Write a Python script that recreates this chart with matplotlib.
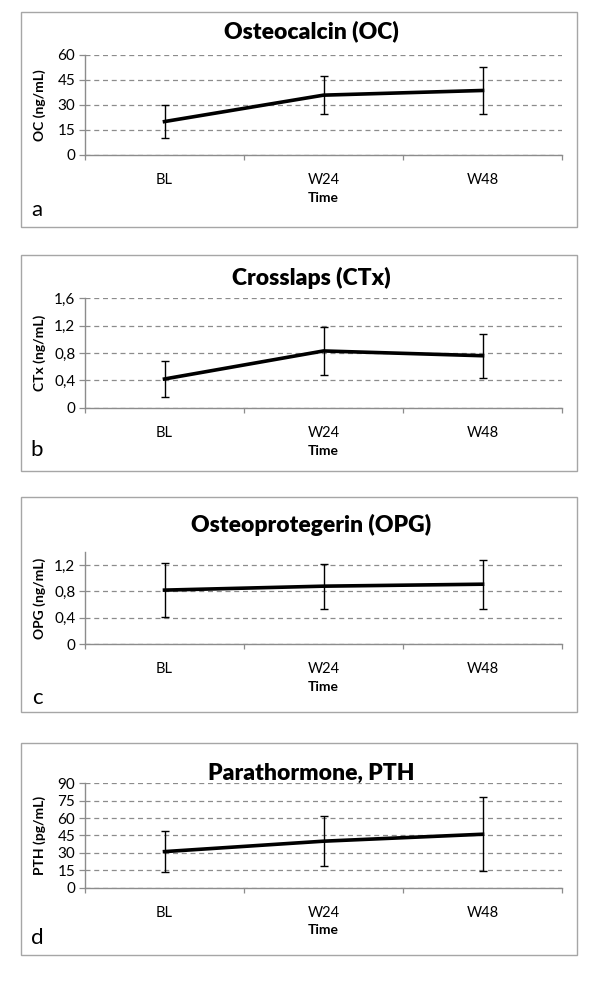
import matplotlib
matplotlib.use("Agg")
import matplotlib.pyplot as plt
from matplotlib.patches import Rectangle

plt.rcParams['font.family'] = ['Lato', 'DejaVu Sans']

categories = ['BL', 'W24', 'W48']

oc_mean = [20.0, 35.8, 38.6]
oc_err = [9.8, 11.2, 13.8]

ctx_mean = [0.42, 0.83, 0.76]
ctx_err = [0.265, 0.355, 0.32]

opg_mean = [0.82, 0.88, 0.91]
opg_err = [0.41, 0.34, 0.37]

pth_mean = [31.0, 40.0, 46.0]
pth_err = [17.5, 21.5, 32.0]

titles = ['Osteocalcin (OC)', 'Crosslaps (CTx)', 'Osteoprotegerin (OPG)', 'Parathormone, PTH']
ylabels = ['OC (ng/mL)', 'CTx (ng/mL)', 'OPG (ng/mL)', 'PTH (pg/mL)']
letters = ['a', 'b', 'c', 'd']
ytick_vals = [[0, 15, 30, 45, 60], [0, 0.4, 0.8, 1.2, 1.6], [0, 0.4, 0.8, 1.2], [0, 15, 30, 45, 60, 75, 90]]
ytick_labels = [['0', '15', '30', '45', '60'], ['0', '0,4', '0,8', '1,2', '1,6'],
                ['0', '0,4', '0,8', '1,2'], ['0', '15', '30', '45', '60', '75', '90']]
ylims = [(0, 60), (0, 1.6), (0, 1.4), (0, 90)]
means = [oc_mean, ctx_mean, opg_mean, pth_mean]
errs = [oc_err, ctx_err, opg_err, pth_err]

W, H = 600, 986
fig = plt.figure(figsize=(W / 100, H / 100), dpi=100)

# layout in pixels: (box_top, box_bottom, title_y, ax_top, ax_bottom, cat_y, time_y, letter_y)
layout = [
    (12.3, 226.7, 31.7, 54.7, 155.0, 175.0, 197.7, 210.0),
    (255.0, 471.0, 278.0, 298.3, 407.7, 430.0, 451.0, 450.0),
    (497.0, 711.5, 525.0, 552.0, 644.0, 664.0, 686.7, 698.0),
    (743.0, 955.0, 773.0, 783.3, 887.5, 906.7, 930.0, 938.0),
]
box_l, box_r = 20.7, 577.0
ax_l, ax_r = 85.0, 562.0
grey = '#8c8c8c'


def fy(y):
    return 1 - y / H


for i in range(4):
    bt, bb, ty, at, ab, cy, tmy, ly = layout[i]
    fig.patches.append(Rectangle((box_l / W, fy(bb)), (box_r - box_l) / W, (bb - bt) / H,
                                 transform=fig.transFigure, fill=False, edgecolor='#a6a6a6',
                                 linewidth=1.0))
    ax = fig.add_axes([ax_l / W, fy(ab), (ax_r - ax_l) / W, (ab - at) / H])
    x = list(range(len(categories)))
    ax.errorbar(x, means[i], yerr=errs[i], color='black', linewidth=2.6,
                ecolor='black', elinewidth=1.0, capsize=2.6, capthick=1.0, zorder=4)
    ax.set_xlim(-0.5, 2.5)
    ax.set_ylim(*ylims[i])
    ax.set_yticks(ytick_vals[i])
    ax.set_yticklabels(ytick_labels[i])
    ax.set_xticks(x)
    ax.set_xticklabels(categories)
    ax.set_xticks([-0.5, 0.5, 1.5, 2.5], minor=True)
    ax.tick_params(axis='x', which='major', length=0, pad=13, labelsize=10.5)
    ax.tick_params(axis='x', which='minor', length=3.5, width=0.9, color=grey, direction='out')
    ax.tick_params(axis='y', which='major', length=4, width=0.9, color=grey, direction='out',
                   pad=3, labelsize=11)
    for s in ['top', 'right']:
        ax.spines[s].set_visible(False)
    for s in ['left', 'bottom']:
        ax.spines[s].set_color(grey)
        ax.spines[s].set_linewidth(1.0)
        ax.spines[s].set_zorder(3)
    ax.grid(axis='y', color=grey, linestyle=(0, (4, 3)), linewidth=0.9)
    ax.set_axisbelow(True)
    ax.patch.set_visible(False)

    ax.set_xlabel('Time', fontsize=10, fontweight='bold')
    ax.xaxis.set_label_coords(0.5, (ab - tmy) / (ab - at))
    ax.xaxis.label.set_va('center')
    ax.set_ylabel(ylabels[i], fontsize=10, fontweight='bold')
    ax.yaxis.set_label_coords((40.0 - ax_l) / (ax_r - ax_l), 0.5)
    ax.yaxis.label.set_va('center')

    fig.text(311 / W, fy(ty), titles[i], ha='center', va='center', fontsize=16.5, fontweight='heavy')
    fig.text(37 / W, fy(ly), letters[i], ha='center', va='center', fontsize=16)

fig.savefig('out.png', dpi=100, facecolor='white')
